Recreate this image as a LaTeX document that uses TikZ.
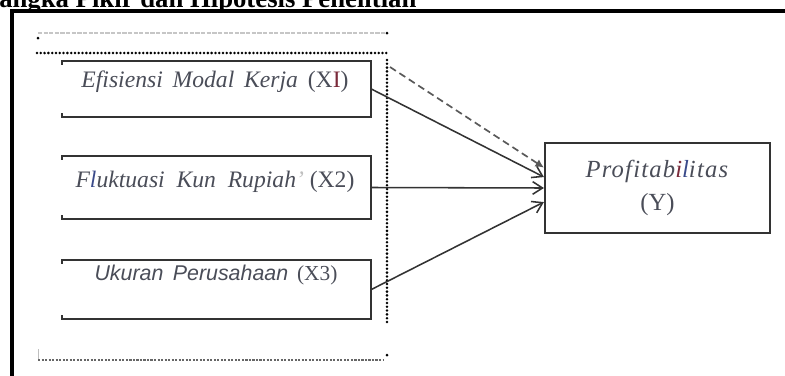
\documentclass[tikz,border=0pt]{standalone}
\usepackage{fontspec}
\setmainfont{Liberation Serif}
\setsansfont{Liberation Sans}
\usetikzlibrary{arrows.meta}
\definecolor{tinta}{HTML}{4A4D58}
\definecolor{garis}{HTML}{333333}
\definecolor{merah}{HTML}{7A2A3A}
\definecolor{biru}{HTML}{3A4A8A}
\tikzset{
	kotak/.style={rectangle, inner sep=0pt, minimum width=7.725cm},
	teks/.style={inner sep=0pt, text=tinta, font=\fontsize{16.8}{20}\selectfont},
	titik/.style={line width=2pt, dash pattern=on 0pt off 2.7pt, line cap=round},
	panah/.style={garis, line width=1.1pt, -{Straight Barb[length=7pt, width=9pt]}}
}
\begin{document}
\begin{tikzpicture}[x=0.025cm, y=-0.025cm]
		\useasboundingbox (0,0) rectangle (785,376);
		\node[anchor=base west, inner sep=0pt, font=\fontsize{19}{22}\selectfont\bfseries] (judul) at (-1,7) {angka Pikir dan Hipotesis Penelitian};
		\draw[line width=2.2pt] (12,376) -- (12,11) -- (785,11);
		
		\draw[gray!45, line width=1.2pt, dash pattern=on 3pt off 1pt] (38,33) -- (386,33);
		\fill (38,38) circle (1.5);
		\fill (387,33) circle (1.5);
		\draw[titik] (37,53) -- (388,53);
		\draw[titik] (387,60) -- (387,322);
		\draw[gray!80!black, line width=1.4pt, dash pattern=on 1.5pt off 1pt] (38,360) -- (384,360);
		\draw[gray!50, line width=0.6pt] (38,349) -- (38,359);
		\fill (387,355) circle (1.5);
		
		\node[kotak, minimum height=1.4cm] (e1) at (216.5,89) {};
		\node[kotak, minimum height=1.575cm] (e2) at (216.5,187.5) {};
		\node[kotak, minimum height=1.475cm] (e3) at (216.5,289.5) {};
		\foreach \k in {e1,e2,e3}
			\draw[garis, line width=1.5pt] ([yshift=-3pt]\k.north west) -- (\k.north west) -- (\k.north east) -- (\k.south east) -- (\k.south west) -- ([yshift=3pt]\k.south west);
		
		\node[teks] (e1t) at (215,82) {\textit{Efisiensi\,\ Modal\,\ Kerja}\,\ (X\textcolor{merah}{I})};
		\node[teks] (e2t) at (215,182) {\textit{F\textcolor{biru}{l}uktuasi\ \ Kun\ \ Rupiah\textcolor{gray!50}{'}}\ (X2)};
		\node[teks, font=\fontsize{15.2}{18}\selectfont] (e3t) at (216,275) {\textsf{\textit{Ukuran\,\ Perusahaan}}\,\ (X3)};
		
		\node[rectangle, draw=garis, line width=1.5pt, minimum width=5.625cm, minimum height=2.25cm, align=center, text=tinta, font=\fontsize{17.5}{23}\selectfont] (Y) at (657.5,188) {\textit{\addfontfeature{LetterSpace=5}Profitab\textcolor{merah}{i}\textcolor{biru}{l}itas}\\(Y)};
		
		\coordinate (putus) at (390,67);
		\draw[panah] (e1.east) -- ([yshift=7.8pt]Y.west);
		\draw[panah] (e2.east) -- (Y.west);
		\draw[panah] (e3.east) -- ([yshift=-10pt]Y.west);
		\draw[gray!70!black, line width=1.2pt, dash pattern=on 5pt off 3pt, -{Latex[length=6pt, width=6pt]}] (putus) -- ([yshift=14.5pt]Y.west);
	\end{tikzpicture}
\end{document}
